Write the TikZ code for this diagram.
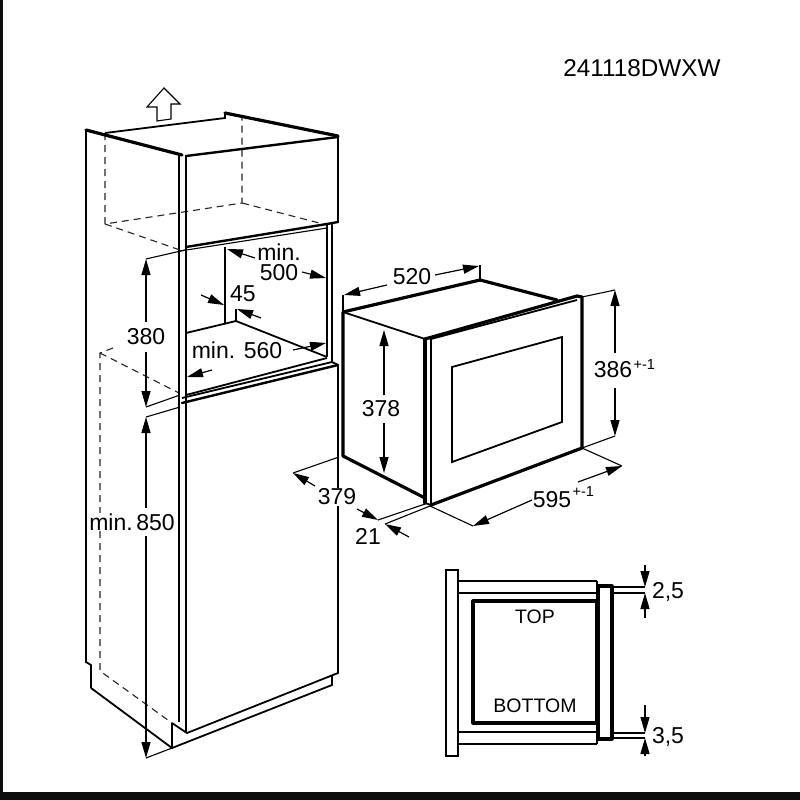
\documentclass[tikz,border=0pt]{standalone}
\usepackage{fontspec}
\setmainfont{Liberation Sans}
\usetikzlibrary{arrows.meta}
\tikzset{
  thinline/.style={line width=1.1pt,black},
  midline/.style={line width=1.8pt,black},
  heavyline/.style={line width=3.2pt,black,line cap=round,line join=round},
  hidden/.style={line width=1.1pt,black!85,dash pattern=on 7pt off 5pt},
  dimline/.style={line width=1.2pt,black,-{Triangle[length=16pt,width=9pt]}},
  dimtext/.style={fill=white,inner sep=1pt,font=\fontsize{23}{24}\selectfont},
  smalltext/.style={inner sep=0pt,font=\fontsize{19.5}{20}\selectfont},
  suptext/.style={inner sep=0pt,font=\fontsize{14.5}{15}\selectfont},
}
\begin{document}
\begin{tikzpicture}[x=1pt,y=-1pt]

    % Page and black edges
    \fill[white] (0,0) rectangle (800,800);
    \fill[black!95] (0,0) rectangle (3,800);
    \fill[black!95] (0,792) rectangle (800,800);

    % Code and up arrow
    \node[inner sep=0pt,font=\fontsize{24.3}{25}\selectfont] (code) at (642,68) {241118DWXW};
    \draw[thinline,line join=miter] (164,88) -- (180,104) -- (171,104) -- (171,119) -- (157,121) -- (157,107) -- (147,107) -- cycle;

    % Cabinet, hidden lines
    \draw[hidden] (105,133) -- (105,224) -- (242,203) -- (242,117);
    \draw[hidden] (242,203) -- (327,225);
    \draw[hidden] (105,224) -- (180,250);
    \draw[hidden] (113,348) -- (100,353) -- (100,671) -- (172,723);
    \draw[hidden] (100,353) -- (179,393);

    % Cabinet, outline
    \draw[midline] (86,130) -- (86,662) -- (91,665) -- (91,688);
    \draw[midline] (91,688) -- (172,748) -- (332,685) -- (332,675);
    \draw[midline] (172,723) -- (172,748);
    \draw[midline] (172,723) -- (187,733) -- (338,673) -- (338,365);
    \draw[midline] (179,155) -- (179,722);
    \draw[midline] (186,155) -- (186,733);

    % Cabinet, top
    \draw[heavyline] (86,130) -- (182,155);
    \draw[midline] (105,133) -- (225,118) -- (225,113);
    \draw[heavyline] (225,113) -- (338,136);
    \draw[heavyline,line width=2.4pt] (186,156) -- (338,137);
    \draw[midline] (338,136) -- (338,223);
    \draw[heavyline,line width=2.4pt] (186,247) -- (327,224) -- (338,222);
    \draw[thinline] (180,251) -- (327,228);

    % Niche
    \draw[midline] (327,225) -- (327,357);
    \draw[midline] (332,224) -- (332,363);
    \draw[midline] (225,247) -- (225,323);
    \draw[midline] (186,333) -- (236,321) -- (327,357);
    \draw[midline] (186,395) -- (327,358);
    \draw[midline] (182,398) -- (332,362) -- (338,365);
    \draw[heavyline,line width=2.4pt] (182,403) -- (338,365);
    \draw[thinline] (236,309) -- (236,321);

    % Oven, body
    \draw[heavyline] (557,300) -- (480,280) -- (343,312) -- (343,456) -- (425,498);
    \draw[midline] (343,312) -- (425,339);

    % Oven, front
    \draw[heavyline] (425,339) -- (577,296) -- (582,297) -- (582,448) -- (431,505);
    \draw[heavyline] (425,339) -- (425,503);
    \draw[midline] (431,339) -- (431,505) -- (425,503);
    \draw[midline] (431,339) -- (577,300);
    \draw[midline] (452,367) -- (562,337) -- (562,422) -- (452,462) -- cycle;

    % Section view
    \draw[midline] (446,570) rectangle (458,756);
    \draw[midline] (458,581) -- (597,581);
    \draw[midline] (458,593) -- (597,593);
    \draw[midline] (458,732) -- (597,732);
    \draw[midline] (458,744) -- (597,744);
    \draw[midline] (597,581) -- (597,744);
    \draw[heavyline,line cap=butt] (473,601) rectangle (597,723);
    \draw[heavyline,line cap=butt] (598,586) rectangle (612,739);
    \node[smalltext] (top) at (535,617) {TOP};
    \node[smalltext] (bottom) at (535,706) {BOTTOM};

    % Extension lines
    \draw[thinline] (185,250) -- (146,259);
    \draw[thinline] (180,395) -- (146,407);
    \draw[thinline] (180,407) -- (146,417);
    \draw[thinline] (172,748) -- (146,758);
    \draw[thinline] (343,312) -- (343,295);
    \draw[thinline] (480,280) -- (480,265);
    \draw[thinline] (582,297) -- (615,290);
    \draw[thinline] (582,448) -- (615,436);
    \draw[thinline] (339,457) -- (293,473);
    \draw[thinline] (425,504) -- (378,520);
    \draw[thinline] (430,506) -- (385,524);
    \draw[thinline] (430,506) -- (473,526);
    \draw[thinline] (582,448) -- (622,466);
    \draw[thinline] (613,587) -- (645,587);
    \draw[thinline] (613,593) -- (645,593);
    \draw[thinline] (613,733) -- (645,733);
    \draw[thinline] (613,738) -- (645,738);

    % Dimension labels
    \node[dimtext] (dimA) at (146,337) {380};
    \node[dimtext] (dimB) at (132,522) {min.\hspace{3.5pt}850};
    \node[dimtext,align=center,inner sep=0pt,fill=none] (dimC) at (279,262) {min.\\[-4pt]500};
    \node[dimtext,inner sep=0pt,fill=none] (dimD) at (243,294) {45};
    \node[dimtext,inner sep=0pt,fill=none] (dimE) at (237,350) {min. 560};
    \node[dimtext] (dimF) at (412,277) {520};
    \node[dimtext] (dimG) at (381,409) {378};
    \node[dimtext] (dimH) at (613,370) {386};
    \node[suptext,anchor=west] (supH) at (dimH.east) [yshift=5pt] {+-1};
    \node[dimtext] (dimI) at (337,497) {379};
    \node[dimtext,inner sep=0pt] (dimJ) at (368,536) {21};
    \node[dimtext] (dimK) at (552,500) {595};
    \node[suptext,anchor=west] (supK) at (dimK.east) [yshift=8pt] {+-1};
    \node[dimtext,inner sep=0pt,fill=none] (dimL) at (668,592) {2,5};
    \node[dimtext,inner sep=0pt,fill=none] (dimM) at (668,737) {3,5};

    % Dimension arrows
    \draw[dimline] (146,322) -- (146,259);
    \draw[dimline] (146,352) -- (146,407);
    \draw[dimline] (146,508) -- (146,417);
    \draw[dimline] (146,536) -- (146,758);
    \draw[dimline] (255,258) -- (227,249);
    \draw[dimline] (302,272) -- (326,278);
    \draw[dimline] (201,295) -- (224,305);
    \draw[dimline] (261,318) -- (237,309);
    \draw[dimline] (212,370) -- (187,377);
    \draw[dimline] (293,350) -- (326,343);
    \draw[dimline] (387,285) -- (344,295);
    \draw[dimline] (435,275) -- (479,266);
    \draw[dimline] (384,395) -- (384,330);
    \draw[dimline] (384,423) -- (384,473);
    \draw[dimline] (615,353) -- (615,290);
    \draw[dimline] (615,388) -- (615,436);
    \draw[dimline] (315,486) -- (293,473);
    \draw[dimline] (357,509) -- (378,520);
    \draw[dimline] (409,537) -- (385,524);
    \draw[dimline] (532,500) -- (473,526);
    \draw[dimline] (578,482) -- (622,466);
    \draw[dimline] (645,565) -- (645,587);
    \draw[dimline] (645,618) -- (645,593);
    \draw[dimline] (645,705) -- (645,733);
    \draw[dimline] (645,756) -- (645,738);

\end{tikzpicture}
\end{document}
